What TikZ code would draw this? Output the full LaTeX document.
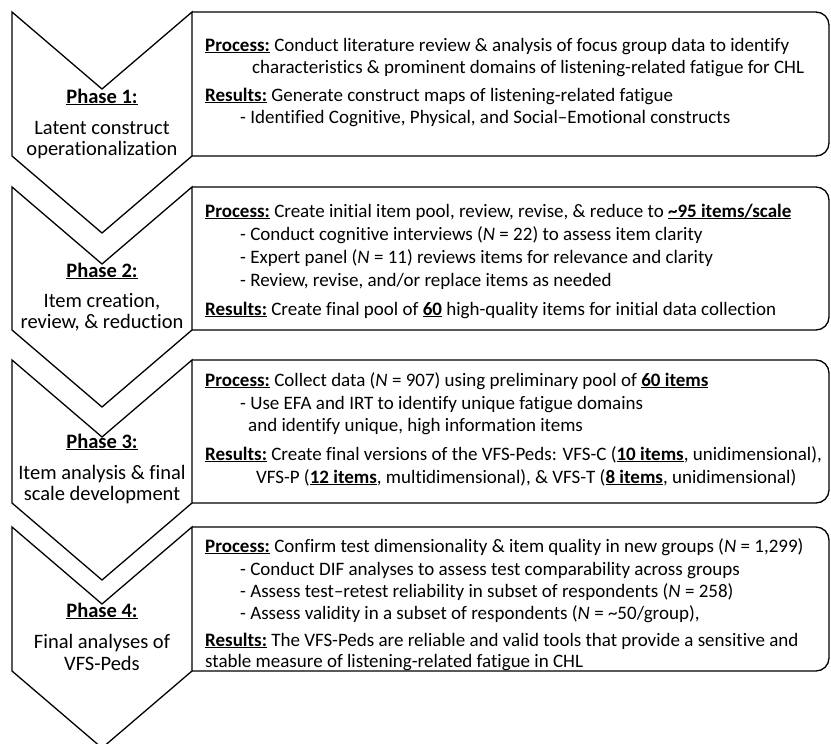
\documentclass[tikz,border=0pt]{standalone}
\usepackage{fontspec}
\setmainfont{Carlito}[Ligatures=NoCommon]
\newcommand\ulb[1]{\setbox0\hbox{\bfseries #1}\rlap{\rule[-2.3pt]{\wd0}{1pt}}\box0\relax}
\begin{document}
\begin{tikzpicture}[x=1pt,y=-1pt,
  shapeline/.style={draw=black, line width=1.3pt, line join=miter},
  lbl/.style={anchor=base, inner sep=0pt, font=\fontsize{20.5}{22}\selectfont},
  txt/.style={anchor=base west, inner sep=0pt, font=\fontsize{19}{22}\selectfont}]
\useasboundingbox (0,0) rectangle (831,744);

\foreach \t/\b in {12/156, 187/330, 360/503, 527/671} {
  \draw[shapeline] (12,\t) -- (102,\t+77) -- (192,\t) -- (192,\b) -- (102,\b+77) -- (12,\b) -- cycle;
  \draw[shapeline, rounded corners=13pt] (192,\t) -- (829,\t) -- (829,\b) -- (192,\b);
}

% Phase labels
\node[lbl] (h1) at (102,103) {\ulb{Phase 1:}};
\node[lbl] (h1a) at (102,134) {Latent construct};
\node[lbl] (h1b) at (102,155) {operationalization};
\node[lbl] (h2) at (102,277) {\ulb{Phase 2:}};
\node[lbl] (h2a) at (102,307) {Item creation,};
\node[lbl] (h2b) at (102,328) {review, \& reduction};
\node[lbl] (h3) at (102,448) {\ulb{Phase 3:}};
\node[lbl] (h3a) at (102,479) {Item analysis \& final};
\node[lbl] (h3b) at (102,500) {scale development};
\node[lbl] (h4) at (102,617) {\ulb{Phase 4:}};
\node[lbl] (h4a) at (102,648) {Final analyses of};
\node[lbl] (h4b) at (102,670) {VFS-Peds};

% Box 1
\node[txt] (p1a) at (205,51) {\ulb{Process:} Conduct literature review \& analysis of focus group data to identify};
\node[txt] (p1b) at (252,73) {characteristics \& prominent domains of listening-related fatigue for CHL};
\node[txt] (r1a) at (205,101) {\ulb{Results:} Generate construct maps of listening-related fatigue};
\node[txt] (r1b) at (240,123) {- Identified Cognitive, Physical, and Social–Emotional constructs};

% Box 2
\node[txt] (p2a) at (205,217) {\ulb{Process:} Create initial item pool, review, revise, \& reduce to \ulb{\textasciitilde95 items/scale}};
\node[txt] (p2b) at (240,240) {- Conduct cognitive interviews (\textit{N} = 22) to assess item clarity};
\node[txt] (p2c) at (240,263) {- Expert panel (\textit{N} = 11) reviews items for relevance and clarity};
\node[txt] (p2d) at (240,286) {- Review, revise, and/or replace items as needed};
\node[txt] (r2a) at (205,315) {\ulb{Results:} Create final pool of \ulb{60} high-quality items for initial data collection};

% Box 3
\node[txt] (p3a) at (205,386) {\ulb{Process:} Collect data (\textit{N} = 907) using preliminary pool of \ulb{60 items}};
\node[txt] (p3b) at (240,409) {- Use EFA and IRT to identify unique fatigue domains};
\node[txt] (p3c) at (248,431) {and identify unique, high information items};
\node[txt] (r3a) at (205,460) {\ulb{Results:} Create final versions of the VFS-Peds: VFS-C (\ulb{10 items}, unidimensional),};
\node[txt] (r3b) at (256,483) {VFS-P (\ulb{12 items}, multidimensional), \& VFS-T (\ulb{8 items}, unidimensional)};

% Box 4
\node[txt] (p4a) at (205,552) {\ulb{Process:} Confirm test dimensionality \& item quality in new groups (\textit{N} = 1,299)};
\node[txt] (p4b) at (240,575) {- Conduct DIF analyses to assess test comparability across groups};
\node[txt] (p4c) at (240,597) {- Assess test–retest reliability in subset of respondents (\textit{N} = 258)};
\node[txt] (p4d) at (240,619) {- Assess validity in a subset of respondents (\textit{N} = \textasciitilde50/group),};
\node[txt] (r4a) at (205,646) {\ulb{Results:} The VFS-Peds are reliable and valid tools that provide a sensitive and};
\node[txt] (r4b) at (205,667) {stable measure of listening-related fatigue in CHL};
\end{tikzpicture}
\end{document}
